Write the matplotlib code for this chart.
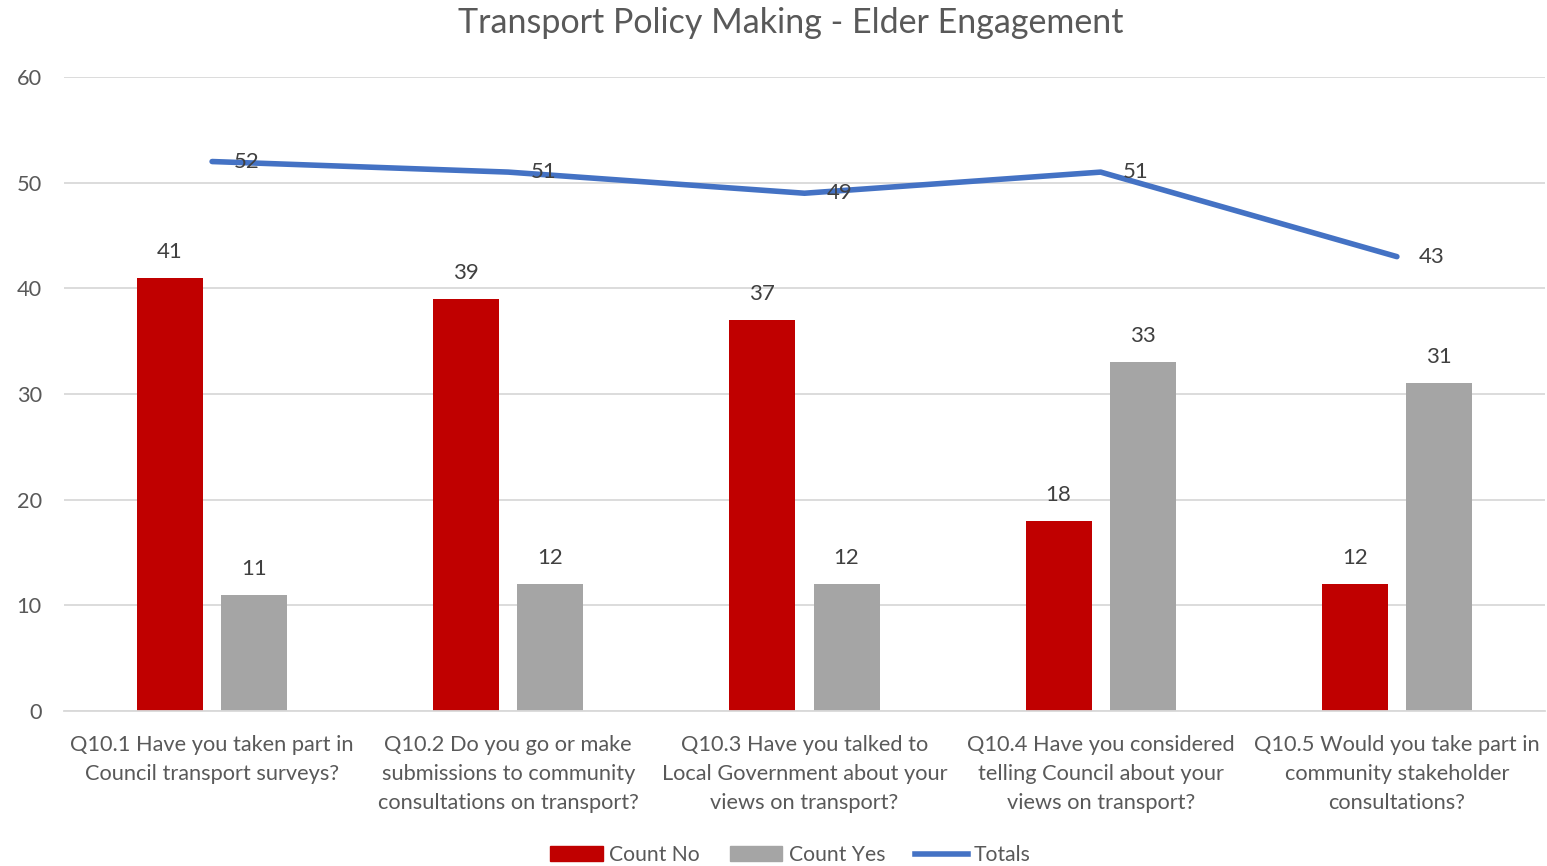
import numpy as np
import matplotlib.pyplot as plt
from matplotlib.patches import Patch
from matplotlib.lines import Line2D

plt.rcParams['font.family'] = ['Lato', 'DejaVu Sans']

questions = [
    "Q10.1 Have you taken part in\nCouncil transport surveys?",
    "Q10.2 Do you go or make\nsubmissions to community\nconsultations on transport?",
    "Q10.3 Have you talked to\nLocal Government about your\nviews on transport?",
    "Q10.4 Have you considered\ntelling Council about your\nviews on transport?",
    "Q10.5 Would you take part in\ncommunity stakeholder\nconsultations?",
]
count_no = [41, 39, 37, 18, 12]
count_yes = [11, 12, 12, 33, 31]
totals = [52, 51, 49, 51, 43]

txt = "#595959"
red = "#C00000"
grey = "#A5A5A5"
blue = "#4472C4"

fig = plt.figure(figsize=(15.47, 8.66), dpi=100)
ax = fig.add_axes([64 / 1547, 1 - 711 / 866, (1545 - 64) / 1547, (711 - 77) / 866])

x = np.arange(len(questions))
w = 0.223
off = 0.142
b1 = ax.bar(x - off, count_no, w, color=red, zorder=2)
b2 = ax.bar(x + off, count_yes, w, color=grey, zorder=2)
ax.plot(x, totals, color=blue, lw=4, solid_capstyle="round", zorder=3)

for bars, vals in ((b1, count_no), (b2, count_yes)):
    for r, v in zip(bars, vals):
        ax.annotate(str(v), (r.get_x() + r.get_width() / 2, v), xytext=(0, 26),
                    textcoords="offset pixels", ha="center", va="center",
                    fontsize=16, color="#404040")
for xi, v in zip(x, totals):
    ax.annotate(str(v), (xi, v), xytext=(22, 0), textcoords="offset pixels",
                ha="left", va="center", fontsize=16, color="#404040", zorder=4)

ax.set_xlim(-0.5, len(questions) - 0.5)
ax.set_ylim(0, 60)
ax.set_yticks(range(0, 61, 10))
ax.yaxis.grid(True, color="#D9D9D9", lw=1.3, zorder=0)
ax.set_axisbelow(True)
for s in ("top", "right", "left"):
    ax.spines[s].set_visible(False)
ax.spines["bottom"].set_color("#D9D9D9")
ax.spines["bottom"].set_linewidth(1.3)
ax.tick_params(axis="both", length=0, labelsize=15.7, labelcolor=txt)
ax.tick_params(axis="y", pad=16)
ax.tick_params(axis="x", pad=17)
ax.set_xticks(x)
ax.set_xticklabels(questions, linespacing=1.56)

fig.text(0.511, 1 - 23 / 866, "Transport Policy Making - Elder Engagement",
         ha="center", va="center", fontsize=24.5, color=txt)

handles = [Patch(color=red), Patch(color=grey), Line2D([], [], color=blue, lw=4)]
fig.legend(handles, ["Count No", "Count Yes", "Totals"], loc="center",
           bbox_to_anchor=(0.511, 1 - 855 / 866), ncol=3, frameon=False,
           fontsize=15.2, labelcolor=txt, handlelength=2.5, handletextpad=0.3,
           columnspacing=1.4)

fig.savefig("out.png", dpi=100)
